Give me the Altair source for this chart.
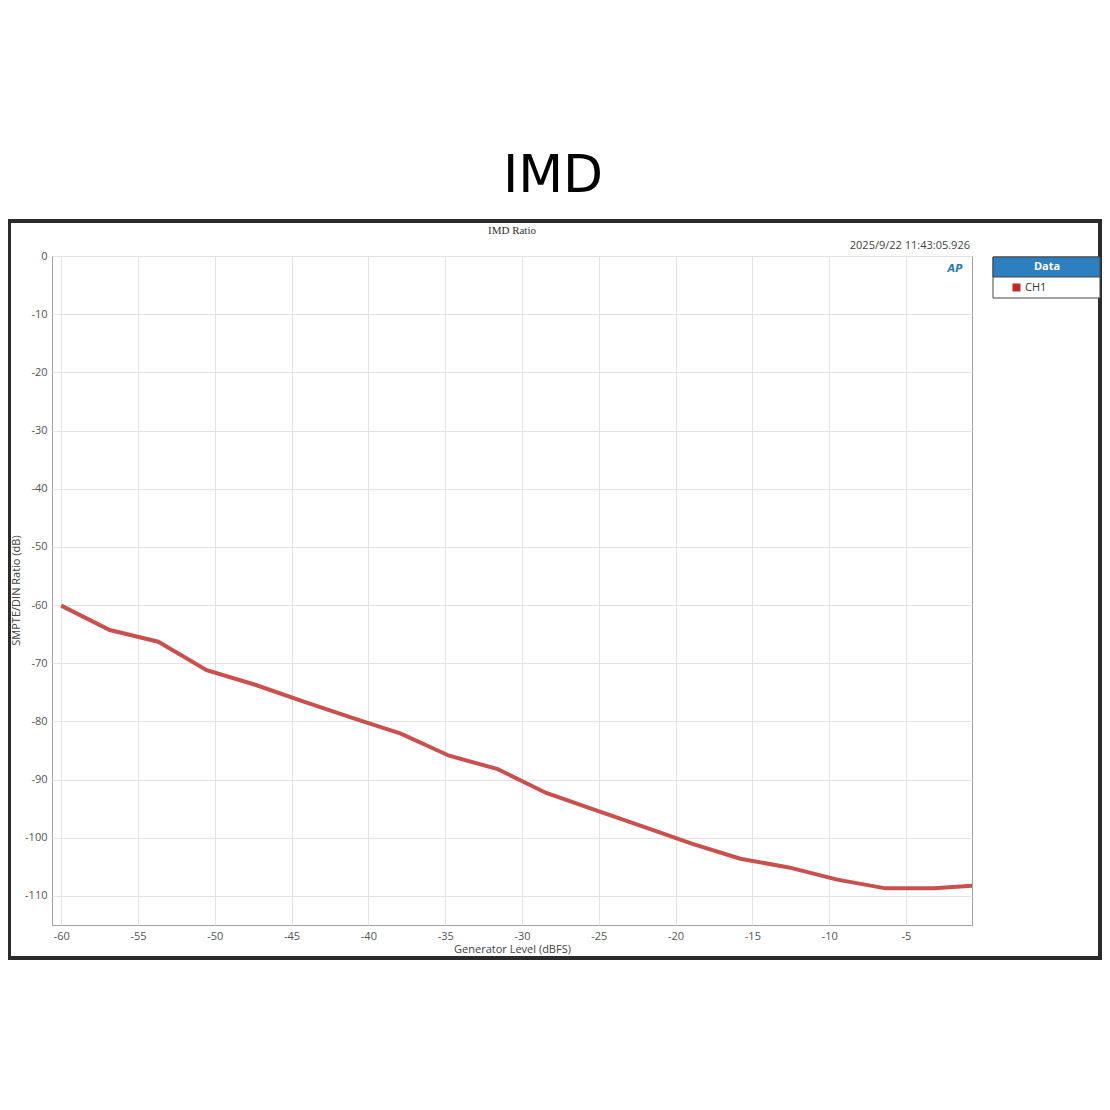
import altair as alt
import pandas as pd

# ---- data ----
generator_level = [-60.0, -56.84, -53.68, -50.53, -47.37, -44.21, -41.05, -37.89,
                   -34.74, -31.58, -28.42, -25.26, -22.11, -18.95, -15.79, -12.63,
                   -9.47, -6.32, -3.16, 0.0]
imd_ratio = [-60.1, -64.3, -66.3, -71.2, -73.7, -76.6, -79.4, -82.1,
             -85.9, -88.2, -92.3, -95.2, -98.1, -101.0, -103.6, -105.1,
             -107.2, -108.7, -108.7, -108.1]
series = ["CH1"] * len(generator_level)

x_ticks = [-60, -55, -50, -45, -40, -35, -30, -25, -20, -15, -10, -5]
y_ticks = [0, -10, -20, -30, -40, -50, -60, -70, -80, -90, -100, -110]

main_title = "IMD"
inner_title = "IMD Ratio"
timestamp = "2025/9/22 11:43:05.926"
legend_header = "Data"
x_title = "Generator Level (dBFS)"
y_title = "SMPTE/DIN Ratio (dB)"

df = pd.DataFrame({"level": generator_level, "ratio": imd_ratio, "series": series})
one = pd.DataFrame({"k": [0]})

W, H = 920, 669
LINE_COLOR = "#c9504c"
FONT = "Open Sans"

# frame around the screenshot
frame = alt.Chart(one).mark_rect(
    fill=None, stroke="#2b2b2b", strokeWidth=4, clip=False
).encode(x=alt.value(-43), x2=alt.value(1048), y=alt.value(-35), y2=alt.value(702))

# big title
title_txt = alt.Chart(one).mark_text(
    text=main_title, font="DejaVu Sans", fontSize=52, color="black",
    align="center", baseline="alphabetic", clip=False
).encode(x=alt.value(501), y=alt.value(-64))

inner_txt = alt.Chart(one).mark_text(
    text=inner_title, font="Liberation Serif", fontSize=11, color="#333333",
    align="center", baseline="middle", clip=False
).encode(x=alt.value(460), y=alt.value(-25))

stamp_txt = alt.Chart(one).mark_text(
    text=timestamp, font=FONT, fontSize=11, color="#444444",
    align="right", baseline="middle", clip=False
).encode(x=alt.value(918), y=alt.value(-10))

ap_txt = alt.Chart(one).mark_text(
    text="AP", font="DejaVu Sans", fontSize=10, fontStyle="italic", fontWeight="bold",
    color="#2a7ab9", align="center", baseline="middle", clip=False
).encode(x=alt.value(903), y=alt.value(13))

# legend box
leg_body = alt.Chart(one).mark_rect(
    fill="white", stroke="#444444", strokeWidth=1, clip=False
).encode(x=alt.value(941), x2=alt.value(1048), y=alt.value(1), y2=alt.value(42))
leg_head = alt.Chart(one).mark_rect(
    fill="#2e7fc0", stroke="#444444", strokeWidth=1, clip=False
).encode(x=alt.value(941), x2=alt.value(1048), y=alt.value(1), y2=alt.value(21))
leg_head_txt = alt.Chart(one).mark_text(
    text=legend_header, font=FONT, fontSize=11, fontWeight="bold", color="white",
    align="center", baseline="middle", clip=False
).encode(x=alt.value(995), y=alt.value(11))

line = alt.Chart(df).mark_line(strokeWidth=4, clip=True).encode(
    x=alt.X("level:Q", scale=alt.Scale(domain=[-60.6, -0.7], nice=False, zero=False),
            axis=alt.Axis(values=x_ticks, title=x_title, grid=True, gridColor="#e3e3e3",
                          ticks=False, domain=False, labelFont=FONT, labelFontSize=11,
                          labelColor="#555555", labelPadding=5,
                          labelExpr="'' + datum.value",
                          titleFont=FONT, titleFontSize=11, titleFontWeight="normal",
                          titleColor="#444444", titleY=24, titleBaseline="middle",
                          labelFlush=False)),
    y=alt.Y("ratio:Q", scale=alt.Scale(domain=[-115, 0], nice=False, zero=False),
            axis=alt.Axis(values=y_ticks, title=y_title, grid=True, gridColor="#e3e3e3",
                          ticks=False, domain=False, labelFont=FONT, labelFontSize=11,
                          labelColor="#555555", labelPadding=5,
                          labelExpr="'' + datum.value",
                          titleFont=FONT, titleFontSize=11, titleFontWeight="normal",
                          titleColor="#444444", titleX=-36, titleY=334,
                          titleBaseline="middle", titleAlign="center", labelFlush=False)),
    color=alt.Color("series:N", scale=alt.Scale(domain=["CH1"], range=[LINE_COLOR]),
                    legend=alt.Legend(orient="none", legendX=959, legendY=26, title=None,
                                      symbolType="square", symbolSize=64,
                                      symbolFillColor="#c62828", symbolStrokeWidth=0,
                                      labelFont=FONT, labelFontSize=11, labelColor="#333333",
                                      labelOffset=3, padding=0)),
)

chart = alt.layer(
    frame, title_txt, inner_txt, stamp_txt, ap_txt, leg_body, leg_head, leg_head_txt, line
).properties(
    width=W, height=H,
    autosize=alt.AutoSizeParams(type="none"),
    padding={"left": 44, "top": 248, "right": 130, "bottom": 177},
    background="white",
).configure_view(stroke="#a0a0a0", strokeWidth=1)

chart.save("out.html", embed_options={"renderer": "svg", "actions": False})
